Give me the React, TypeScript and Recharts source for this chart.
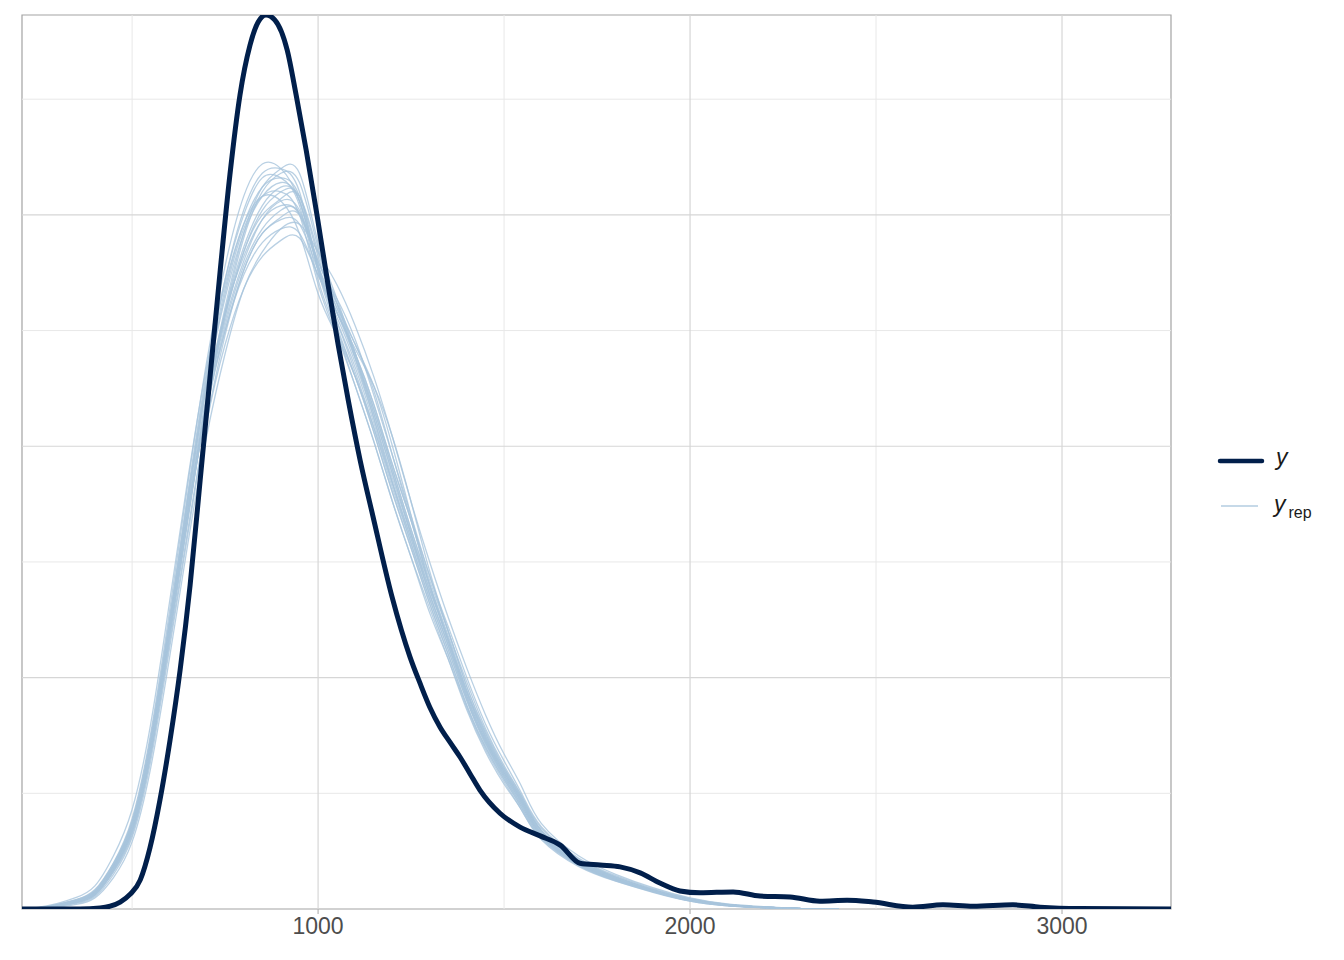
import React from "react";
import { LineChart, Line, XAxis, YAxis, ReferenceLine, ReferenceArea } from "recharts";

// Observed density (y): x value, density (x 1e-4)
const Y_X = [204, 360, 414, 441, 468, 495, 522, 548, 575, 602, 629, 656, 683, 710, 737, 763, 790, 817, 839, 860, 884, 917, 941, 968, 997, 1027, 1054, 1081, 1113, 1148, 1199, 1247, 1274, 1301, 1328, 1355, 1382, 1408, 1435, 1489, 1543, 1597, 1651, 1704, 1758, 1812, 1866, 1919, 1973, 2027, 2116, 2188, 2269, 2349, 2422, 2492, 2599, 2680, 2761, 2868, 2941, 3048, 3293];
const Y_D = [0, 0, 0.02, 0.06, 0.15, 0.32, 0.63, 1.32, 2.36, 3.65, 5.16, 7.0, 9.27, 11.54, 13.81, 15.87, 17.59, 18.67, 19.17, 19.32, 19.21, 18.56, 17.59, 16.4, 15.0, 13.48, 12.19, 11.0, 9.7, 8.47, 6.74, 5.45, 4.88, 4.35, 3.93, 3.6, 3.28, 2.93, 2.57, 2.07, 1.77, 1.58, 1.38, 0.99, 0.95, 0.91, 0.78, 0.56, 0.39, 0.35, 0.37, 0.28, 0.26, 0.17, 0.19, 0.15, 0.04, 0.09, 0.06, 0.09, 0.04, 0.01, 0];

// Replicated densities (y_rep), all on the same x grid
const REP_X = [200, 250, 300, 350, 400, 450, 500, 550, 600, 650, 700, 750, 800, 850, 900, 950, 1000, 1050, 1100, 1150, 1200, 1250, 1300, 1350, 1400, 1450, 1500, 1550, 1600, 1700, 1800, 1900, 2000, 2100, 2200, 2300, 2400];
const REP1 = [0, 0.02, 0.08, 0.16, 0.35, 0.9, 1.75, 3.5, 6.0, 8.6, 11.0, 12.9, 14.3, 15.2, 15.6, 15.3, 13.8, 12.8, 11.8, 10.6, 9.3, 8.1, 6.9, 5.8, 4.6, 3.65, 2.95, 2.3, 1.62, 1.0, 0.66, 0.4, 0.2, 0.09, 0.04, 0.01, 0];
const REP2 = [0, 0.03, 0.1, 0.2, 0.42, 1.0, 1.95, 3.8, 6.4, 9.2, 11.8, 13.9, 15.4, 16.1, 16.0, 15.3, 13.9, 12.6, 11.5, 10.3, 9.0, 7.8, 6.6, 5.5, 4.4, 3.5, 2.8, 2.15, 1.55, 0.95, 0.62, 0.38, 0.18, 0.08, 0.03, 0.01, 0];
const REP3 = [0, 0.02, 0.07, 0.15, 0.3, 0.8, 1.6, 3.3, 5.7, 8.2, 10.5, 12.2, 13.4, 14.1, 14.45, 14.5, 13.7, 12.9, 12.0, 10.9, 9.6, 8.4, 7.2, 6.0, 4.9, 3.9, 3.1, 2.4, 1.75, 1.08, 0.7, 0.42, 0.22, 0.1, 0.04, 0.01, 0];
const REP4 = [0, 0.01, 0.06, 0.14, 0.3, 0.82, 1.65, 3.35, 5.8, 8.4, 10.9, 12.9, 14.5, 15.5, 15.9, 15.7, 14.3, 13.1, 11.9, 10.6, 9.2, 7.9, 6.7, 5.6, 4.5, 3.6, 2.85, 2.2, 1.58, 0.98, 0.64, 0.38, 0.19, 0.08, 0.03, 0.01, 0];
const REP5 = [0, 0.03, 0.09, 0.18, 0.38, 0.95, 1.85, 3.6, 6.1, 8.7, 11.1, 12.9, 14.1, 14.9, 15.2, 15.0, 13.9, 13.0, 12.2, 11.2, 9.8, 8.4, 7.0, 5.8, 4.7, 3.75, 3.0, 2.35, 1.68, 1.04, 0.68, 0.41, 0.2, 0.09, 0.04, 0.01, 0];
const REP6 = [0, 0.02, 0.08, 0.17, 0.36, 0.92, 1.8, 3.55, 6.1, 8.8, 11.3, 13.3, 14.7, 15.4, 15.5, 15.0, 13.5, 12.4, 11.3, 10.1, 8.8, 7.6, 6.5, 5.4, 4.3, 3.4, 2.7, 2.1, 1.5, 0.92, 0.6, 0.36, 0.17, 0.07, 0.03, 0.01, 0];
const REP7 = [0, 0.01, 0.05, 0.12, 0.27, 0.75, 1.55, 3.2, 5.6, 8.1, 10.5, 12.4, 13.8, 14.6, 14.95, 15.0, 14.0, 13.2, 12.3, 11.1, 9.8, 8.5, 7.2, 6.1, 5.0, 4.0, 3.2, 2.45, 1.78, 1.1, 0.72, 0.44, 0.23, 0.1, 0.04, 0.01, 0];
const REP8 = [0, 0.02, 0.07, 0.15, 0.32, 0.85, 1.7, 3.4, 5.9, 8.5, 11.0, 13.0, 14.6, 15.6, 16.0, 15.9, 14.4, 13.2, 12.0, 10.7, 9.4, 8.1, 6.8, 5.7, 4.6, 3.65, 2.9, 2.25, 1.6, 0.99, 0.65, 0.39, 0.19, 0.08, 0.03, 0.01, 0];
const REP9 = [0, 0.02, 0.08, 0.17, 0.35, 0.9, 1.75, 3.5, 6.0, 8.6, 10.9, 12.7, 14.0, 14.9, 15.3, 15.1, 13.9, 12.9, 11.9, 10.8, 9.5, 8.2, 7.0, 5.9, 4.7, 3.7, 2.95, 2.3, 1.65, 1.02, 0.67, 0.4, 0.2, 0.09, 0.04, 0.01, 0];
const REP10 = [0, 0.03, 0.1, 0.2, 0.4, 0.98, 1.9, 3.7, 6.2, 8.9, 11.4, 13.4, 14.8, 15.6, 15.8, 15.4, 13.9, 12.7, 11.6, 10.4, 9.1, 7.9, 6.7, 5.6, 4.5, 3.55, 2.85, 2.2, 1.58, 0.97, 0.63, 0.38, 0.18, 0.08, 0.03, 0.01, 0];
const REP11 = [0, 0.02, 0.08, 0.17, 0.36, 0.92, 1.8, 3.55, 6.0, 8.5, 10.8, 12.5, 13.7, 14.4, 14.7, 14.6, 13.7, 12.9, 12.0, 10.9, 9.6, 8.4, 7.1, 6.0, 4.8, 3.85, 3.05, 2.35, 1.7, 1.05, 0.69, 0.42, 0.21, 0.09, 0.04, 0.01, 0];
const REP12 = [0, 0.02, 0.07, 0.15, 0.33, 0.86, 1.7, 3.4, 5.9, 8.5, 10.9, 12.8, 14.2, 15.1, 15.5, 15.4, 14.1, 13.0, 11.9, 10.7, 9.4, 8.1, 6.9, 5.8, 4.65, 3.7, 2.95, 2.3, 1.62, 1.0, 0.66, 0.4, 0.2, 0.09, 0.04, 0.01, 0];
const REP13 = [0, 0.02, 0.08, 0.16, 0.34, 0.88, 1.72, 3.45, 5.95, 8.5, 10.8, 12.6, 13.9, 14.7, 15.1, 15.05, 14.0, 13.1, 12.2, 11.3, 10.0, 8.5, 7.0, 5.8, 4.7, 3.8, 3.05, 2.4, 1.7, 1.05, 0.68, 0.41, 0.21, 0.09, 0.04, 0.01, 0];
const REP14 = [0, 0.02, 0.09, 0.19, 0.38, 0.95, 1.85, 3.65, 6.15, 8.8, 11.3, 13.2, 14.6, 15.4, 15.7, 15.3, 13.8, 12.7, 11.7, 10.5, 9.2, 8.0, 6.8, 5.7, 4.55, 3.6, 2.9, 2.25, 1.6, 0.98, 0.64, 0.39, 0.19, 0.08, 0.03, 0.01, 0];
const REP15 = [0, 0.04, 0.12, 0.25, 0.5, 1.15, 2.15, 4.0, 6.6, 9.3, 11.7, 13.5, 14.8, 15.4, 15.3, 14.6, 13.3, 12.4, 11.5, 10.4, 9.2, 8.0, 6.8, 5.7, 4.55, 3.6, 2.9, 2.25, 1.6, 0.97, 0.63, 0.38, 0.18, 0.08, 0.03, 0.01, 0];
const REP16 = [0, 0.01, 0.04, 0.1, 0.24, 0.68, 1.45, 3.05, 5.4, 7.9, 10.2, 12.0, 13.4, 14.2, 14.7, 14.8, 14.2, 13.5, 12.6, 11.5, 10.2, 8.8, 7.5, 6.3, 5.2, 4.2, 3.35, 2.6, 1.85, 1.15, 0.75, 0.46, 0.24, 0.11, 0.05, 0.01, 0];
const REP17 = [0, 0.02, 0.08, 0.17, 0.36, 0.93, 1.82, 3.6, 6.15, 8.9, 11.5, 13.6, 15.1, 15.9, 16.0, 15.5, 13.8, 12.5, 11.3, 10.1, 8.8, 7.6, 6.4, 5.4, 4.35, 3.45, 2.75, 2.1, 1.52, 0.94, 0.61, 0.37, 0.17, 0.07, 0.03, 0.01, 0];
const REP18 = [0, 0.02, 0.08, 0.17, 0.35, 0.9, 1.76, 3.5, 6.0, 8.55, 10.8, 12.5, 13.8, 14.6, 14.9, 14.8, 13.8, 12.9, 12.1, 11.3, 10.2, 8.8, 7.3, 6.0, 4.8, 3.8, 3.0, 2.35, 1.7, 1.04, 0.68, 0.41, 0.2, 0.09, 0.04, 0.01, 0];
const REP19 = [0, 0.02, 0.07, 0.14, 0.31, 0.83, 1.67, 3.38, 5.85, 8.45, 10.9, 12.8, 14.2, 15.0, 15.35, 15.4, 14.2, 13.1, 12.0, 10.8, 9.5, 8.2, 7.0, 5.85, 4.7, 3.72, 2.98, 2.3, 1.64, 1.01, 0.66, 0.4, 0.2, 0.09, 0.04, 0.01, 0];
const REP20 = [0, 0.03, 0.09, 0.19, 0.39, 0.97, 1.88, 3.7, 6.25, 9.0, 11.6, 13.6, 15.0, 15.8, 15.8, 15.2, 13.6, 12.5, 11.5, 10.3, 9.0, 7.8, 6.6, 5.5, 4.4, 3.5, 2.8, 2.15, 1.55, 0.95, 0.62, 0.38, 0.18, 0.08, 0.03, 0.01, 0];
const REPS = [REP1, REP2, REP3, REP4, REP5, REP6, REP7, REP8, REP9, REP10, REP11, REP12, REP13, REP14, REP15, REP16, REP17, REP18, REP19, REP20];

const X_TICKS = [1000, 2000, 3000];
const X_MINOR = [500, 1500, 2500];
const Y_MAJOR = [5, 10, 15];
const Y_MINOR = [2.5, 7.5, 12.5, 17.5];
const X_DOMAIN = [204, 3293];
const Y_DOMAIN = [0, 19.32];

const yData = Y_X.map((x, i) => ({ x, d: Y_D[i] }));
const repData = REPS.map((r) => REP_X.map((x, i) => ({ x, d: r[i] })));

const FONT = "'Liberation Sans', Arial, Helvetica, sans-serif";
const DARK = "#011f4b";
const LIGHT = "#a7c4dc";

export default function App() {
  return (
    <div style={{ position: "absolute", left: 0, top: 0, width: 1344, height: 960, background: "#fff" }}>
      <LineChart
        width={1344}
        height={960}
        margin={{ top: 15, left: 22, right: 173, bottom: 11 }}
      >
        <XAxis
          dataKey="x"
          type="number"
          domain={X_DOMAIN}
          ticks={X_TICKS}
          allowDataOverflow
          axisLine={false}
          tickLine={{ stroke: "#b5b5b5", strokeWidth: 1.2 }}
          tickSize={5}
          height={40}
          tick={{ fill: "#4d4d4d", fontSize: 23, fontFamily: FONT }}
          tickMargin={4}
        />
        <YAxis type="number" domain={Y_DOMAIN} hide allowDataOverflow />
        {X_MINOR.map((v) => (
          <ReferenceLine key={"xm" + v} x={v} stroke="#e8e8e8" strokeWidth={1} />
        ))}
        {Y_MINOR.map((v) => (
          <ReferenceLine key={"ym" + v} y={v} stroke="#e8e8e8" strokeWidth={1} />
        ))}
        {X_TICKS.map((v) => (
          <ReferenceLine key={"xM" + v} x={v} stroke="#d6d6d6" strokeWidth={1.2} />
        ))}
        {Y_MAJOR.map((v) => (
          <ReferenceLine key={"yM" + v} y={v} stroke="#d6d6d6" strokeWidth={1.2} />
        ))}
        <ReferenceArea
          x1={X_DOMAIN[0]}
          x2={X_DOMAIN[1]}
          y1={Y_DOMAIN[0]}
          y2={Y_DOMAIN[1]}
          fill="none"
          fillOpacity={0}
          stroke="#a3a3a3"
          strokeWidth={1.2}
        />
        {repData.map((d, i) => (
          <Line
            key={"rep" + i}
            data={d}
            dataKey="d"
            type="natural"
            stroke={LIGHT}
            strokeOpacity={0.8}
            strokeWidth={1.3}
            dot={false}
            activeDot={false}
            isAnimationActive={false}
          />
        ))}
        <Line
          data={yData}
          dataKey="d"
          type="monotone"
          stroke={DARK}
          strokeWidth={5}
          dot={false}
          activeDot={false}
          isAnimationActive={false}
        />
      </LineChart>
      <div style={{ position: "absolute", left: 1217, top: 440, fontFamily: FONT, color: "#1a1a1a" }}>
        <div style={{ position: "relative", height: 44 }}>
          <svg width={48} height={12} style={{ position: "absolute", left: 0, top: 15 }}>
            <line x1={3} y1={6} x2={45} y2={6} stroke={DARK} strokeWidth={4.5} strokeLinecap="round" />
          </svg>
          <span style={{ position: "absolute", left: 59, top: 4, fontSize: 23, fontStyle: "italic" }}>y</span>
        </div>
        <div style={{ position: "relative", height: 44 }}>
          <svg width={48} height={12} style={{ position: "absolute", left: 0, top: 16 }}>
            <line x1={4} y1={6} x2={41} y2={6} stroke="#b3cde0" strokeWidth={1.3} />
          </svg>
          <span style={{ position: "absolute", left: 57, top: 7, fontSize: 23, whiteSpace: "nowrap" }}>
            <span style={{ fontStyle: "italic" }}>y</span>
            <span style={{ fontSize: 16, position: "relative", top: 6, marginLeft: 3 }}>rep</span>
          </span>
        </div>
      </div>
    </div>
  );
}
